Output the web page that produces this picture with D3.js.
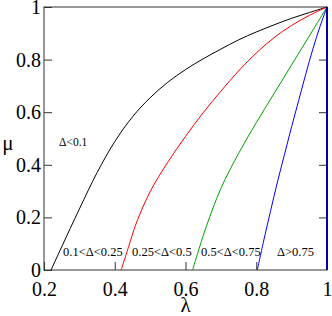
<!DOCTYPE html>
<html lang="en">
<head>
<meta charset="utf-8">
<title>lambda - mu regions</title>
<script src="https://d3js.org/d3.v7.min.js"></script>
<style>
  body { margin: 0; background: #fff; }
  .axis path, .axis line { stroke: #333; stroke-width: 1; }
  text { font-family: "Liberation Serif", "Times New Roman", Times, "DejaVu Serif", serif !important; }
</style>
</head>
<body>
<script>
// boundary curves (lambda, mu)
var lamBlack = [0.22, 0.25, 0.30, 0.35, 0.40, 0.45, 0.50, 0.55, 0.60, 0.65, 0.70, 0.75, 0.80, 0.85, 0.90, 0.95, 1.0];
var muBlack  = [0, 0.088, 0.232, 0.37, 0.488, 0.582, 0.655, 0.714, 0.762, 0.803, 0.84, 0.875, 0.905, 0.932, 0.957, 0.979, 1];

var lamRed = [0.418, 0.44, 0.46, 0.50, 0.55, 0.60, 0.65, 0.70, 0.75, 0.80, 0.85, 0.90, 0.95, 1.0];
var muRed  = [0, 0.092, 0.175, 0.298, 0.41, 0.508, 0.598, 0.68, 0.757, 0.825, 0.883, 0.93, 0.968, 1];

var lamGreen = [0.62, 0.64, 0.66, 0.70, 0.75, 0.80, 0.85, 0.90, 0.95, 1.0];
var muGreen  = [0, 0.088, 0.17, 0.31, 0.443, 0.56, 0.67, 0.78, 0.89, 1];

var lamBlue = [0.803, 0.82, 0.84, 0.86, 0.88, 0.90, 0.92, 0.94, 0.96, 0.98, 1.0];
var muBlue  = [0, 0.105, 0.222, 0.335, 0.44, 0.545, 0.645, 0.745, 0.84, 0.925, 1];

// vertical boundary at lambda = 1
var lamEdge = [1, 1];
var muEdge  = [0, 1];

var xTicks = [0.2, 0.4, 0.6, 0.8, 1];
var yTicks = [0, 0.2, 0.4, 0.6, 0.8, 1];

var regionLabels = ["\u0394<0.1", "0.1<\u0394<0.25", "0.25<\u0394<0.5", "0.5<\u0394<0.75", "\u0394>0.75"];

var serif = "Liberation Serif, Times New Roman, DejaVu Serif, serif";
var w = 332, h = 316;
var x = d3.scaleLinear().domain([0.2, 1]).range([44, 327]);
var y = d3.scaleLinear().domain([0, 1]).range([270, 7]);

var svg = d3.select("body").append("svg")
    .attr("width", w)
    .attr("height", h)
    .attr("font-family", serif);

function pts(lams, mus) {
    return lams.map(function(l, i) { return [l, mus[i]]; });
}

var line = d3.line()
    .x(function(d) { return x(d[0]); })
    .y(function(d) { return y(d[1]); })
    .curve(d3.curveCatmullRom.alpha(0.5));

var series = [
    {p: pts(lamBlack, muBlack), c: "#000000"},
    {p: pts(lamRed, muRed), c: "#ff0000"},
    {p: pts(lamGreen, muGreen), c: "#00a000"},
    {p: pts(lamBlue, muBlue), c: "#0000ff"}
];

// frame
svg.append("rect")
    .attr("x", x(0.2)).attr("y", y(1))
    .attr("width", x(1) - x(0.2)).attr("height", y(0) - y(1))
    .attr("fill", "none").attr("stroke", "#333").attr("stroke-width", 1);

// axes, ticks inward
var fmt = function(d) { return String(d); };
svg.append("g").attr("class", "axis")
    .attr("transform", "translate(0," + y(0) + ")")
    .call(d3.axisBottom(x).tickValues(xTicks).tickFormat(fmt).tickSize(-8).tickPadding(12))
    .attr("font-family", serif)
    .attr("font-size", 20)
    .call(function(g) { g.select(".domain").remove(); });

svg.append("g").attr("class", "axis")
    .attr("transform", "translate(" + x(0.2) + ",0)")
    .call(d3.axisLeft(y).tickValues(yTicks).tickFormat(fmt).tickSize(-8).tickPadding(3))
    .attr("font-family", serif)
    .attr("font-size", 20)
    .call(function(g) { g.select(".domain").remove(); });

// mirrored ticks on the right side, no labels
svg.append("g").attr("class", "axis")
    .attr("transform", "translate(" + x(1) + ",0)")
    .call(d3.axisRight(y).tickValues(yTicks.slice(1, 5)).tickFormat("").tickSize(-8))
    .call(function(g) { g.select(".domain").remove(); });

// curves
svg.selectAll("path.curve")
    .data(series)
    .enter()
    .append("path")
    .attr("class", "curve")
    .attr("d", function(d) { return line(d.p); })
    .attr("fill", "none")
    .attr("stroke", function(d) { return d.c; })
    .attr("stroke-width", 1);

svg.append("path")
    .attr("d", d3.line().x(function(d) { return x(d[0]); }).y(function(d) { return y(d[1]); })(pts(lamEdge, muEdge)))
    .attr("stroke", "#0000a8")
    .attr("stroke-width", 2)
    .attr("fill", "none");

// axis titles
svg.append("text")
    .attr("x", (x(0.2) + x(1)) / 2)
    .attr("y", 312)
    .attr("text-anchor", "middle")
    .attr("font-size", 21)
    .text("\u03bb");

svg.append("text")
    .attr("x", 8)
    .attr("y", 150)
    .attr("text-anchor", "middle")
    .attr("font-size", 21)
    .text("\u03bc");

// region labels
var labelPos = [[59, 146, 11.5], [63, 256, 12.5], [132, 256, 12.5], [201, 256, 12.5], [277, 256, 12.5]];
svg.selectAll("text.region")
    .data(regionLabels)
    .enter()
    .append("text")
    .attr("class", "region")
    .attr("x", function(d, i) { return labelPos[i][0]; })
    .attr("y", function(d, i) { return labelPos[i][1]; })
    .attr("font-size", function(d, i) { return labelPos[i][2]; })
    .text(function(d) { return d; });
</script>
</body>
</html>
